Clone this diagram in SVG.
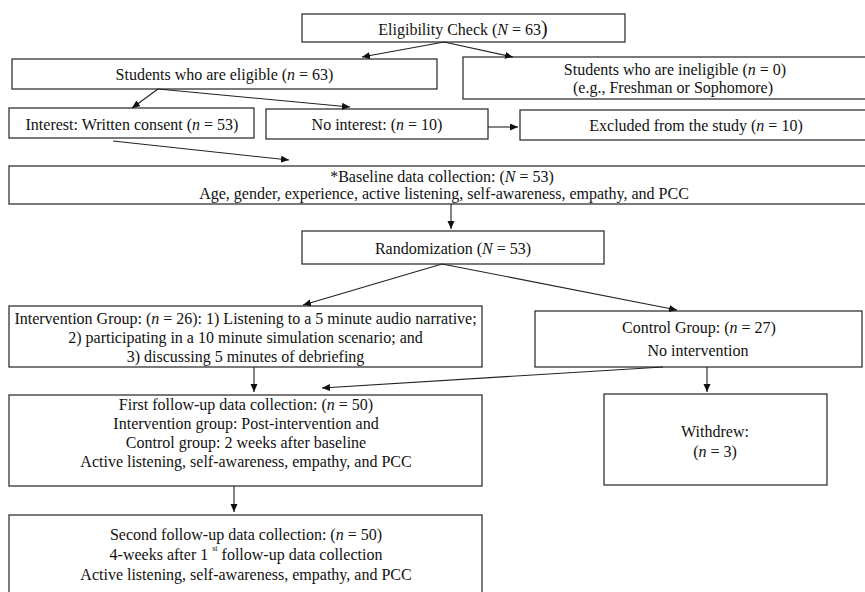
<svg xmlns="http://www.w3.org/2000/svg" width="865" height="592" viewBox="0 0 865 592">
<defs>
<style>
.box{fill:#fff;stroke:#333;stroke-width:1.3}
text{font-family:"Liberation Serif","Times New Roman",serif;font-size:16px;fill:#111;text-anchor:middle}
.i{font-style:italic}
.c line{stroke:#222;stroke-width:1.1;marker-end:url(#ah)}
</style>
<marker id="ah" markerWidth="9" markerHeight="8" refX="8" refY="3.5" orient="auto" markerUnits="userSpaceOnUse">
<path d="M0,0 L8,3.5 L0,7 z" fill="#111"/>
</marker>
</defs>
<rect width="865" height="592" fill="#fff"/>

<g id="n1"><rect class="box" x="302" y="14" width="323" height="28"/>
<text x="463" y="35">Eligibility Check (<tspan class="i">N</tspan> = 63<tspan font-size="20">)</tspan></text></g>

<g id="n2"><rect class="box" x="12" y="59" width="425" height="30"/>
<text x="224.5" y="80">Students who are eligible (<tspan class="i">n</tspan> = 63)</text></g>

<g id="n3"><rect class="box" x="463" y="57" width="430" height="42"/>
<text x="675" y="75">Students who are ineligible (<tspan class="i">n</tspan> = 0)</text>
<text x="673" y="93">(e.g., Freshman or Sophomore)</text></g>

<g id="n4"><rect class="box" x="9" y="108" width="245" height="30"/>
<text x="132" y="130">Interest: Written consent (<tspan class="i">n</tspan> = 53)</text></g>

<g id="n5"><rect class="box" x="266" y="109" width="222" height="30"/>
<text x="377" y="130">No interest: (<tspan class="i">n</tspan> = 10)</text></g>

<g id="n6"><rect class="box" x="520" y="110" width="360" height="30"/>
<text x="696" y="131">Excluded from the study (<tspan class="i">n</tspan> = 10)</text></g>

<g id="n7"><rect class="box" x="9" y="166" width="871" height="38"/>
<text x="442" y="182">*Baseline data collection: (<tspan class="i">N</tspan> = 53)</text>
<text x="444" y="199">Age, gender, experience, active listening, self-awareness, empathy, and PCC</text></g>

<g id="n8"><rect class="box" x="302" y="231" width="302" height="33"/>
<text x="453" y="254">Randomization (<tspan class="i">N</tspan> = 53)</text></g>

<g id="n9"><rect class="box" x="9" y="306" width="473" height="61"/>
<text x="245.5" y="324">Intervention Group: (<tspan class="i">n</tspan> = 26): 1) Listening to a 5 minute audio narrative;</text>
<text x="245.5" y="343">2) participating in a 10 minute simulation scenario; and</text>
<text x="245.5" y="362">3) discussing 5 minutes of debriefing</text></g>

<g id="n10"><rect class="box" x="535" y="311" width="327" height="56"/>
<text x="699" y="333">Control Group: (<tspan class="i">n</tspan> = 27)</text>
<text x="698" y="356">No intervention</text></g>

<g id="n11"><rect class="box" x="9" y="395" width="473" height="91"/>
<text x="246" y="410">First follow-up data collection: (<tspan class="i">n</tspan> = 50)</text>
<text x="246" y="429">Intervention group: Post-intervention and</text>
<text x="246" y="448">Control group: 2 weeks after baseline</text>
<text x="246" y="467">Active listening, self-awareness, empathy, and PCC</text></g>

<g id="n12"><rect class="box" x="604" y="394" width="223" height="91"/>
<text x="715" y="437">Withdrew:</text>
<text x="715" y="457">(<tspan class="i">n</tspan> = 3)</text></g>

<g id="n13"><rect class="box" x="9" y="515" width="473" height="90"/>
<text x="246" y="540">Second follow-up data collection: (<tspan class="i">n</tspan> = 50)</text>
<text x="246" y="560">4-weeks after 1 <tspan font-size="8" dy="-9">st</tspan><tspan dy="9">  follow-up data collection</tspan></text>
<text x="246" y="580">Active listening, self-awareness, empathy, and PCC</text></g>

<g id="connectors" class="c">
<line x1="444" y1="42" x2="362" y2="57"/>
<line x1="444" y1="42" x2="513" y2="57"/>
<line x1="158" y1="89" x2="132" y2="108"/>
<line x1="158" y1="89" x2="350" y2="107"/>
<line x1="488" y1="127" x2="518" y2="127"/>
<line x1="113" y1="141" x2="289" y2="160"/>
<line x1="451" y1="204" x2="451" y2="229"/>
<line x1="442" y1="264" x2="303" y2="305"/>
<line x1="442" y1="264" x2="677" y2="310"/>
<line x1="254" y1="367" x2="254" y2="392"/>
<line x1="663" y1="367" x2="322" y2="388"/>
<line x1="707" y1="367" x2="707" y2="392"/>
<line x1="234" y1="486" x2="234" y2="512"/>
</g>
</svg>
